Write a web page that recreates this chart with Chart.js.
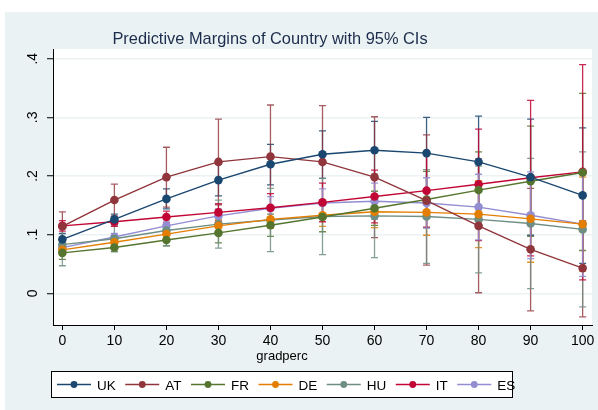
<!DOCTYPE html>
<html>
<head>
<meta charset="utf-8">
<script src="https://cdn.jsdelivr.net/npm/chart.js@4/dist/chart.umd.min.js"></script>
<style>
  html, body { margin: 0; padding: 0; background: #ffffff; }
  #wrap { width: 598px; height: 410px; }
</style>
</head>
<body>
<div id="wrap"><canvas id="c" width="598" height="410"></canvas></div>
<script>
// ---- data -------------------------------------------------------------
const gradperc = [0, 10, 20, 30, 40, 50, 60, 70, 80, 90, 100];
const xTickLabels = ['0', '10', '20', '30', '40', '50', '60', '70', '80', '90', '100'];
const yTicks = [0, 0.1, 0.2, 0.3, 0.4];
const yTickLabels = ['0', '.1', '.2', '.3', '.4'];
const countries = ['UK', 'AT', 'FR', 'DE', 'HU', 'IT', 'ES'];

// predictive margins and 95% confidence limits per country
const ukMargin = [0.092, 0.126, 0.161, 0.193, 0.220, 0.237, 0.244, 0.239, 0.224, 0.198, 0.167];
const ukLow    = [0.082, 0.117, 0.144, 0.166, 0.185, 0.196, 0.195, 0.178, 0.146, 0.099, 0.051];
const ukHigh   = [0.102, 0.135, 0.178, 0.220, 0.254, 0.277, 0.293, 0.300, 0.302, 0.297, 0.282];

const atMargin = [0.114, 0.159, 0.198, 0.224, 0.233, 0.224, 0.198, 0.158, 0.115, 0.075, 0.043];
const atLow    = [0.090, 0.132, 0.147, 0.151, 0.145, 0.128, 0.095, 0.048, 0.001, -0.030, -0.040];
const atHigh   = [0.139, 0.186, 0.249, 0.297, 0.321, 0.320, 0.301, 0.270, 0.229, 0.179, 0.124];

const frMargin = [0.069, 0.078, 0.091, 0.103, 0.116, 0.130, 0.145, 0.160, 0.176, 0.191, 0.206];
const frLow    = [0.058, 0.071, 0.081, 0.086, 0.097, 0.105, 0.116, 0.112, 0.111, 0.097, 0.073];
const frHigh   = [0.080, 0.085, 0.101, 0.120, 0.135, 0.155, 0.174, 0.208, 0.241, 0.285, 0.341];

const deMargin = [0.074, 0.087, 0.101, 0.115, 0.126, 0.133, 0.139, 0.138, 0.135, 0.127, 0.118];
const deLow    = [0.066, 0.080, 0.093, 0.105, 0.111, 0.114, 0.112, 0.099, 0.078, 0.053, 0.038];
const deHigh   = [0.082, 0.094, 0.109, 0.125, 0.141, 0.152, 0.166, 0.177, 0.192, 0.201, 0.198];

const huMargin = [0.083, 0.093, 0.107, 0.118, 0.125, 0.131, 0.132, 0.131, 0.126, 0.119, 0.109];
const huLow    = [0.047, 0.071, 0.081, 0.077, 0.071, 0.066, 0.061, 0.051, 0.035, 0.008, -0.023];
const huHigh   = [0.119, 0.115, 0.133, 0.159, 0.179, 0.196, 0.203, 0.211, 0.217, 0.230, 0.241];

const itMargin = [0.115, 0.122, 0.130, 0.138, 0.146, 0.155, 0.165, 0.175, 0.186, 0.197, 0.207];
const itLow    = [0.106, 0.114, 0.120, 0.123, 0.122, 0.122, 0.120, 0.113, 0.090, 0.064, 0.023];
const itHigh   = [0.124, 0.130, 0.140, 0.153, 0.170, 0.188, 0.210, 0.237, 0.280, 0.329, 0.390];

const esMargin = [0.078, 0.096, 0.115, 0.132, 0.145, 0.154, 0.157, 0.154, 0.147, 0.133, 0.118];
const esLow    = [0.072, 0.090, 0.107, 0.120, 0.125, 0.130, 0.126, 0.111, 0.091, 0.059, 0.029];
const esHigh   = [0.084, 0.102, 0.123, 0.144, 0.165, 0.178, 0.188, 0.197, 0.203, 0.207, 0.207];

// ---- styling ----------------------------------------------------------
const colors = ['#1a476f', '#90353b', '#55752f', '#e37e00', '#6e8e84', '#c10534', '#938dd2'];
const ciColors = ['rgba(26,71,111,0.85)', 'rgba(144,53,59,0.8)', 'rgba(85,117,47,0.85)',
                  'rgba(227,126,0,0.85)', 'rgba(110,142,132,0.85)', 'rgba(193,5,52,0.85)',
                  'rgba(147,141,210,0.9)'];
const regionColor = '#eaf2f3';
const FONT = '"Liberation Sans", Arial, Helvetica, sans-serif';

const margins = [ukMargin, atMargin, frMargin, deMargin, huMargin, itMargin, esMargin];
const lows    = [ukLow, atLow, frLow, deLow, huLow, itLow, esLow];
const highs   = [ukHigh, atHigh, frHigh, deHigh, huHigh, itHigh, esHigh];

const datasets = countries.map((name, k) => ({
  label: name,
  data: gradperc.map((g, i) => ({ x: g, y: margins[k][i] })),
  ciLow: lows[k],
  ciHigh: highs[k],
  ciColor: ciColors[k],
  borderColor: colors[k],
  backgroundColor: colors[k],
  borderWidth: 1.4,
  pointRadius: 4.3,
  pointHoverRadius: 4.3,
  pointBorderWidth: 0,
  tension: 0,
  fill: false
}));

// ---- plugins ----------------------------------------------------------
const backdrop = {
  id: 'backdrop',
  beforeDraw(chart) {
    const { ctx, chartArea: a } = chart;
    ctx.save();
    ctx.fillStyle = '#ffffff';
    ctx.fillRect(0, 0, chart.width, chart.height);
    ctx.fillStyle = regionColor;
    ctx.fillRect(5, 12, chart.width - 5, chart.height - 12);
    ctx.fillStyle = '#ffffff';
    ctx.fillRect(a.left, a.top, a.right - a.left, a.bottom - a.top);
    ctx.restore();
  }
};

// capped confidence-interval spikes, drawn beneath the connected lines
const ciCaps = {
  id: 'ciCaps',
  beforeDatasetsDraw(chart) {
    const { ctx, scales: { x, y } } = chart;
    ctx.save();
    ctx.lineWidth = 1.3;
    chart.data.datasets.forEach(ds => {
      ctx.strokeStyle = ds.ciColor;
      ds.data.forEach((p, i) => {
        const px = x.getPixelForValue(p.x);
        const y1 = y.getPixelForValue(ds.ciLow[i]);
        const y2 = y.getPixelForValue(ds.ciHigh[i]);
        ctx.beginPath();
        ctx.moveTo(px, y1); ctx.lineTo(px, y2);
        ctx.moveTo(px - 3.5, y1); ctx.lineTo(px + 3.5, y1);
        ctx.moveTo(px - 3.5, y2); ctx.lineTo(px + 3.5, y2);
        ctx.stroke();
      });
    });
    ctx.restore();
  }
};

const annotations = {
  id: 'annotations',
  afterDraw(chart) {
    const { ctx, scales: { y } } = chart;
    ctx.save();
    // title
    ctx.fillStyle = '#1c2c4c';
    ctx.font = '16.4px ' + FONT;
    ctx.textAlign = 'center';
    ctx.textBaseline = 'alphabetic';
    ctx.fillText('Predictive Margins of Country with 95% CIs', 270, 44);

    // vertical-reading y tick labels
    ctx.fillStyle = '#000000';
    ctx.font = '14px ' + FONT;
    y.ticks.forEach(t => {
      const idx = yTicks.indexOf(t.value);
      if (idx < 0) return;
      const py = y.getPixelForValue(t.value);
      ctx.save();
      ctx.translate(37, py);
      ctx.rotate(-Math.PI / 2);
      ctx.textAlign = 'center';
      ctx.fillText(yTickLabels[idx], 0, 0);
      ctx.restore();
    });

    // x-axis title
    ctx.font = '13px ' + FONT;
    ctx.textAlign = 'center';
    ctx.fillText('gradperc', 282, 360);

    // legend
    const bx = 51, by = 371, bw = 461, bh = 26;
    ctx.fillStyle = '#ffffff';
    ctx.fillRect(bx, by, bw, bh);
    ctx.strokeStyle = '#000000';
    ctx.lineWidth = 1;
    ctx.strokeRect(bx + 0.5, by + 0.5, bw, bh);
    ctx.font = '13.5px ' + FONT;
    ctx.textAlign = 'left';
    let lx = 57;
    const ly = 384.5;
    chart.data.datasets.forEach(ds => {
      ctx.strokeStyle = ds.borderColor;
      ctx.lineWidth = 1.4;
      ctx.beginPath();
      ctx.moveTo(lx, ly); ctx.lineTo(lx + 34, ly);
      ctx.stroke();
      ctx.fillStyle = ds.borderColor;
      ctx.beginPath();
      ctx.arc(lx + 17, ly, 3.4, 0, Math.PI * 2);
      ctx.fill();
      ctx.fillStyle = '#000000';
      ctx.fillText(ds.label, lx + 40, 390);
      lx += 40 + ctx.measureText(ds.label).width + 9.5;
    });
    ctx.restore();
  }
};

// ---- chart ------------------------------------------------------------
new Chart(document.getElementById('c'), {
  type: 'line',
  data: { datasets },
  options: {
    responsive: false,
    animation: false,
    devicePixelRatio: 1,
    layout: { padding: { left: 5, right: 6, top: 49, bottom: 0 } },
    plugins: { legend: { display: false }, title: { display: false }, tooltip: { enabled: false } },
    scales: {
      x: {
        type: 'linear',
        min: -1.8,
        max: 101.8,
        afterBuildTicks: s => { s.ticks = gradperc.map(v => ({ value: v })); },
        afterFit: s => { s.height = 85; },
        grid: { display: true, drawOnChartArea: false, drawTicks: true, tickLength: 5, tickColor: '#000000', tickWidth: 1 },
        border: { display: true, color: '#000000', width: 1 },
        ticks: {
          color: '#000000',
          font: { family: FONT, size: 14 },
          padding: 3,
          maxRotation: 0,
          autoSkip: false,
          callback: (v) => xTickLabels[gradperc.indexOf(v)]
        }
      },
      y: {
        type: 'linear',
        min: -0.054,
        max: 0.4165,
        afterBuildTicks: s => { s.ticks = yTicks.map(v => ({ value: v })); },
        afterFit: s => { s.width = 48; },
        grid: { display: true, drawOnChartArea: true, color: regionColor, lineWidth: 1.5,
                drawTicks: true, tickLength: 6, tickColor: '#000000', tickWidth: 1 },
        border: { display: true, color: '#000000', width: 1 },
        ticks: { display: false }
      }
    }
  },
  plugins: [backdrop, ciCaps, annotations]
});
</script>
</body>
</html>
